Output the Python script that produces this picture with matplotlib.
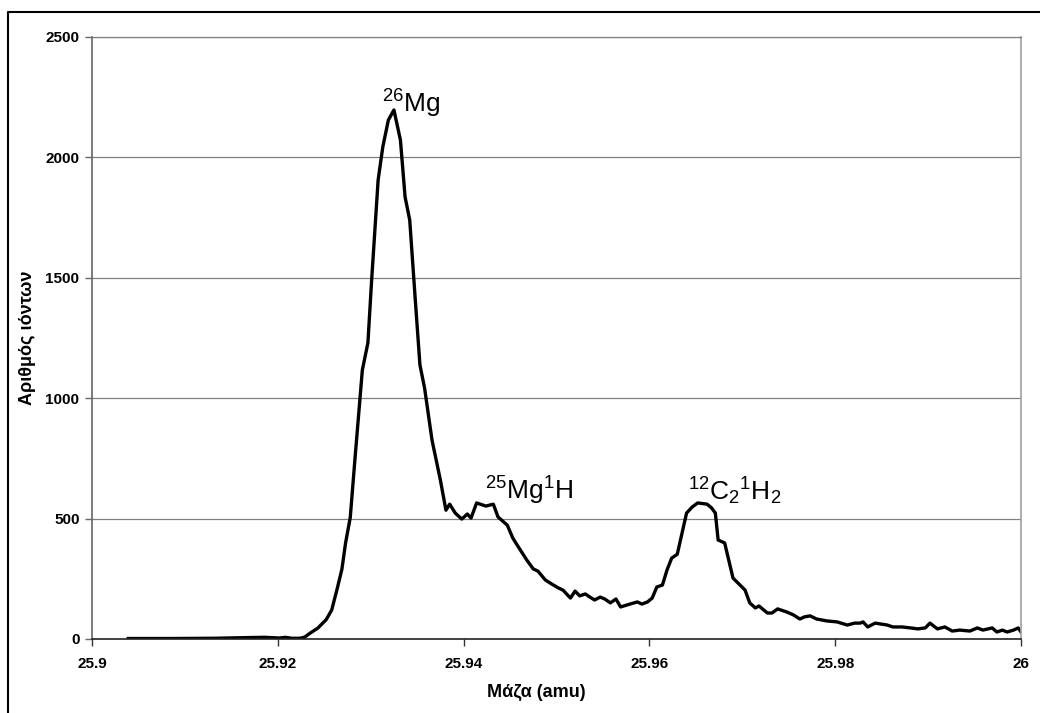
import matplotlib
matplotlib.use("Agg")
import matplotlib.pyplot as plt
from matplotlib.lines import Line2D

plt.rcParams['font.family'] = ['Liberation Sans', 'DejaVu Sans']
plt.rcParams['mathtext.fontset'] = 'custom'
plt.rcParams['mathtext.rm'] = 'Liberation Sans'
plt.rcParams['mathtext.it'] = 'Liberation Sans:italic'
plt.rcParams['mathtext.bf'] = 'Liberation Sans:bold'

mass = [25.9039, 25.9084, 25.9132, 25.9170, 25.9186, 25.9202, 25.9208, 25.9215, 25.9224, 25.9229,
        25.9235, 25.9243, 25.9252, 25.9258, 25.9264, 25.9269, 25.9273, 25.9278, 25.9283, 25.9291,
        25.9297, 25.9301, 25.9308, 25.9313, 25.9319, 25.9325, 25.9332, 25.9337, 25.9342, 25.9348,
        25.9353, 25.9358, 25.9366, 25.9375, 25.9381, 25.9385, 25.9391, 25.9398, 25.9404, 25.9408,
        25.9414, 25.9424, 25.9432, 25.9437, 25.9447, 25.9453, 25.9459, 25.9468, 25.9475, 25.9480,
        25.9488, 25.9495, 25.9502, 25.9507, 25.9515, 25.9520, 25.9525, 25.9531, 25.9536, 25.9541,
        25.9547, 25.9552, 25.9558, 25.9564, 25.9569, 25.9579, 25.9587, 25.9592, 25.9598, 25.9603,
        25.9608, 25.9614, 25.9619, 25.9624, 25.9630, 25.9640, 25.9646, 25.9652, 25.9662, 25.9667,
        25.9671, 25.9674, 25.9681, 25.9690, 25.9703, 25.9708, 25.9714, 25.9718, 25.9727, 25.9732,
        25.9738, 25.9748, 25.9755, 25.9762, 25.9767, 25.9773, 25.9780, 25.9791, 25.9802, 25.9813,
        25.9821, 25.9827, 25.9830, 25.9835, 25.9843, 25.9856, 25.9862, 25.9872, 25.9881, 25.9889,
        25.9897, 25.9902, 25.9910, 25.9918, 25.9926, 25.9934, 25.9945, 25.9953, 25.9959, 25.9969,
        25.9974, 25.9980, 25.9985, 25.9992, 25.9997, 26.0000]
counts = [2, 2, 3, 6, 7, 4, 7, 3, 3, 8,
          25, 45, 80, 120, 210, 290, 400, 505, 745, 1117,
          1230, 1490, 1906, 2043, 2155, 2197, 2072, 1836, 1740, 1408,
          1138, 1042, 826, 660, 535, 560, 523, 498, 519, 502,
          565, 552, 560, 507, 473, 419, 382, 328, 291, 282,
          245, 228, 212, 203, 170, 199, 179, 187, 174, 162,
          174, 166, 150, 166, 133, 145, 154, 145, 154, 170,
          216, 224, 287, 336, 352, 523, 548, 565, 560, 544,
          523, 411, 399, 253, 203, 150, 129, 137, 108, 108,
          125, 112, 100, 83, 92, 96, 83, 75, 71, 58,
          66, 66, 71, 50, 66, 58, 50, 50, 46, 42,
          46, 66, 42, 50, 33, 37, 33, 46, 37, 46,
          29, 37, 29, 37, 46, 29]

x_ticks = [25.9, 25.92, 25.94, 25.96, 25.98, 26.0]
x_tick_labels = ["25.9", "25.92", "25.94", "25.96", "25.98", "26"]
y_ticks = [0, 500, 1000, 1500, 2000, 2500]

peak_labels = [r'$\mathregular{^{26}Mg}$', r'$\mathregular{^{25}Mg^{1}H}$', r'$\mathregular{^{12}C_{2}{}^{1}H_{2}}$']
peak_label_x = [25.9312, 25.9423, 25.9642]
peak_label_y = [2188, 577, 577]

fig = plt.figure(figsize=(10.4, 7.13), dpi=100)
ax = fig.add_axes([92/1040, 74/713, 929/1040, 602/713])

ax.plot(mass, counts, color='black', linewidth=2.4, solid_joinstyle='round')

ax.set_xlim(25.9, 26.0)
ax.set_ylim(0, 2500)
ax.set_xticks(x_ticks)
ax.set_xticklabels(x_tick_labels)
ax.set_yticks(y_ticks)
ax.yaxis.grid(True, color='#808080', linewidth=0.9)
ax.set_axisbelow(True)

for lbl in ax.get_xticklabels() + ax.get_yticklabels():
    lbl.set_fontweight('bold')
    lbl.set_fontsize(11)
ax.tick_params(axis='x', direction='out', length=5, width=1, color='#333333', pad=8)
ax.tick_params(axis='y', direction='out', length=5, width=1, color='#666666', pad=4)

ax.spines['top'].set_color('#808080')
ax.spines['top'].set_linewidth(0.9)
ax.spines['right'].set_color('#a0a0a0')
ax.spines['right'].set_linewidth(1.2)
ax.spines['left'].set_color('#666666')
ax.spines['left'].set_linewidth(1.2)
ax.spines['bottom'].set_color('#222222')
ax.spines['bottom'].set_linewidth(1.2)

ax.set_xlabel('Μάζα (amu)', fontsize=13, fontweight='bold')
ax.set_ylabel('Αριθμός ιόντων', fontsize=13, fontweight='bold')
ax.xaxis.set_label_coords((536 - 92) / 929, -(692 - 639) / 602)
ax.yaxis.set_label_coords(-(92 - 28) / 929, 0.5)
ax.xaxis.label.set_va('center')
ax.yaxis.label.set_va('center')

for t, xv, yv in zip(peak_labels, peak_label_x, peak_label_y):
    ax.text(xv, yv, t, fontsize=19, ha='left', va='baseline')

# outer frame (top and left edges visible)
fx = 8/1040
fy = 1 - 12/713
fig.add_artist(Line2D([fx, fx, 1.0], [0.0, fy, fy], transform=fig.transFigure,
                      color='black', linewidth=1.5))

fig.savefig('out.png', dpi=100)
